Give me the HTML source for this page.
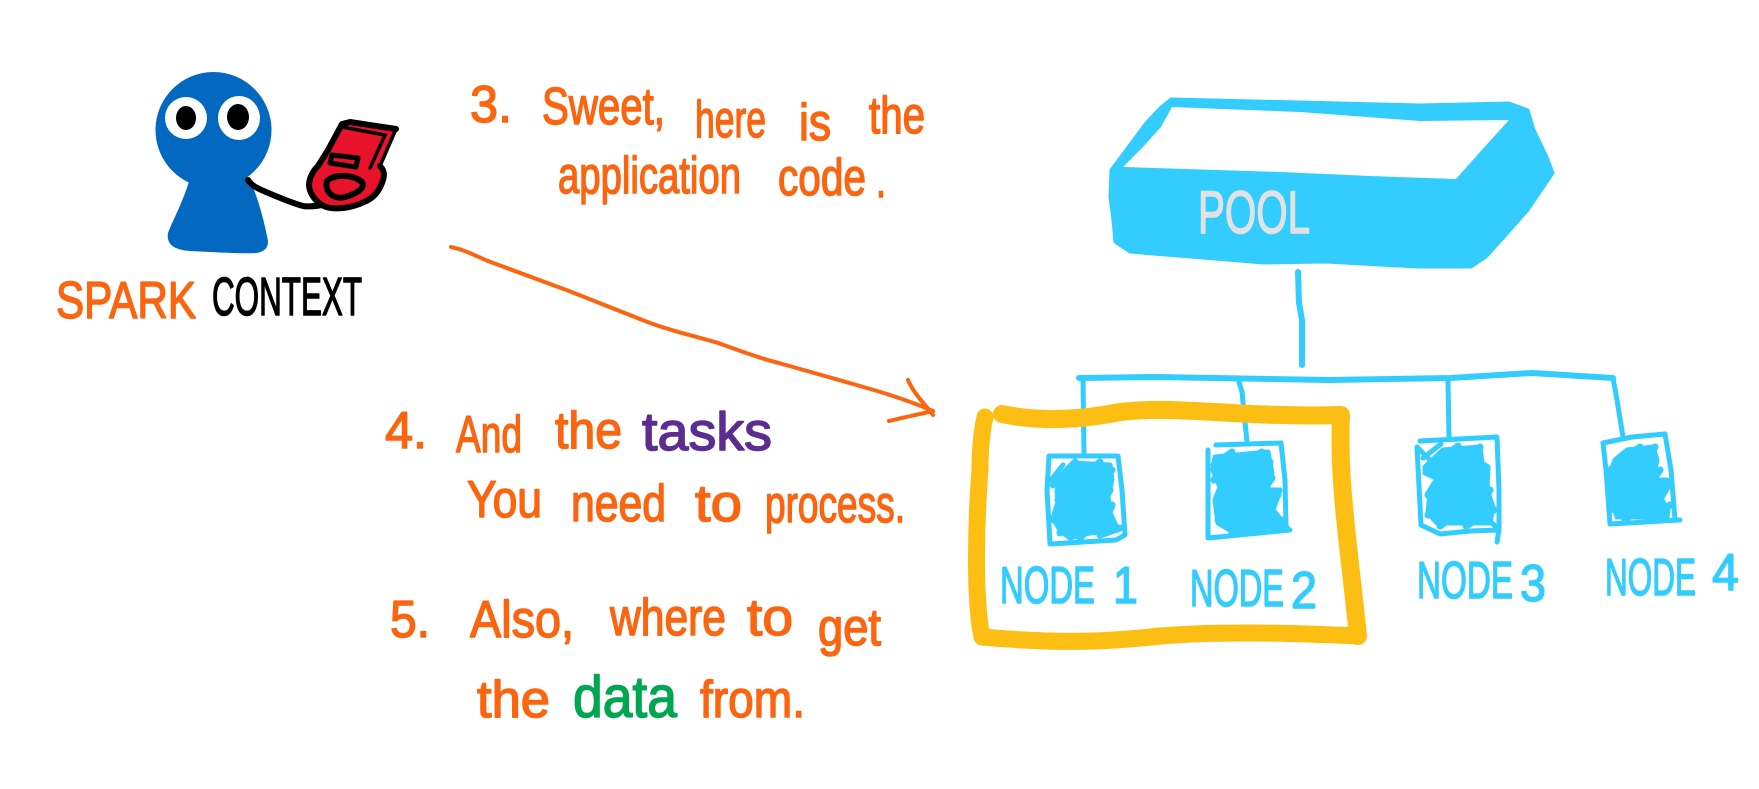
<!DOCTYPE html>
<html><head><meta charset="utf-8"><style>
html,body{margin:0;padding:0;background:#fff}
svg{display:block}
text{font-family:"Liberation Sans",sans-serif;stroke-linejoin:round;stroke-linecap:round}
.o text,.o{fill:#fb6510;stroke:#fb6510;stroke-width:1.5;font-size:52px}
.c text{fill:#33ccff;stroke:#33ccff;stroke-width:1.5;font-size:52px}
</style></head><body>
<svg width="1759" height="789" viewBox="0 0 1759 789" xmlns="http://www.w3.org/2000/svg">
<rect width="1759" height="789" fill="#fff"/>

<!-- Figure -->
<g fill="#0369c0">
<ellipse cx="213.500" cy="130" rx="58" ry="58"/>
<path d="M190 178C184 200 172 222 168 233C166 245 175 250 190 251C215 252 240 254 257 253C265 251 268 248 268 241C265 225 260 205 254 190L246 175Z"/>
</g>
<ellipse cx="186" cy="118" rx="21" ry="21" fill="#fff"/>
<ellipse cx="239" cy="118" rx="21" ry="22" fill="#fff"/>
<ellipse cx="186" cy="118" rx="10" ry="12" fill="#000"/>
<ellipse cx="238" cy="117" rx="11" ry="13" fill="#000"/>
<path d="M248 180C252 186 257 188 266 192C280 198 292 203 303 206C310 207 316 206 322 205" fill="none" stroke="#000" stroke-width="6" stroke-linecap="round"/>
<path d="M342 124L350 122L396 129L380 166C384 170 385 174 383 180C380 190 374 198 364 202C352 208 336 210 326 207C316 203 310 194 309 186C309 178 312 172 318 166L328 150Z" fill="#e8132a"/>
<path d="M380 166C384 170 385 174 383 180C380 190 374 198 364 202C352 208 336 210 326 207C316 203 310 194 309 186C309 178 312 172 318 166L328 150L342 124L350 122L396 129" fill="none" stroke="#000" stroke-width="6" stroke-linejoin="round" stroke-linecap="round"/>
<path d="M342 127L385 135L370 168M396 129L380 166" fill="none" stroke="#000" stroke-width="3.500" stroke-linecap="round"/>
<path d="M332 155L358 158L356 167L330 163Z" fill="none" stroke="#000" stroke-width="5" stroke-linejoin="round"/>
<path d="M327 181C334 174 352 174 362 182C366 188 356 194 345 197C334 200 324 192 327 181Z" fill="none" stroke="#000" stroke-width="6" stroke-linejoin="round"/>

<g class="o">
<text x="56" y="318" textLength="140" lengthAdjust="spacingAndGlyphs">SPARK</text>
</g>
<text x="212" y="315" textLength="150" lengthAdjust="spacingAndGlyphs" font-size="54" fill="#000" stroke="#000" stroke-width="1.500">CONTEXT</text>

<!-- Step text -->
<g class="o">
<text x="470" y="122" textLength="42" lengthAdjust="spacingAndGlyphs">3.</text>
<text x="542" y="124" textLength="123" lengthAdjust="spacingAndGlyphs">Sweet,</text>
<text x="695" y="137" textLength="71" lengthAdjust="spacingAndGlyphs">here</text>
<text x="799" y="140" textLength="32" lengthAdjust="spacingAndGlyphs">is</text>
<text x="869" y="133" textLength="56" lengthAdjust="spacingAndGlyphs">the</text>
<text x="558" y="193" textLength="183" lengthAdjust="spacingAndGlyphs">application</text>
<text x="778" y="195" textLength="88" lengthAdjust="spacingAndGlyphs">code</text>
<text x="876" y="197" textLength="10" lengthAdjust="spacingAndGlyphs">.</text>

<text x="385" y="448" textLength="42" lengthAdjust="spacingAndGlyphs">4.</text>
<text x="456" y="452" textLength="66" lengthAdjust="spacingAndGlyphs">And</text>
<text x="555" y="448" textLength="67" lengthAdjust="spacingAndGlyphs">the</text>
<text x="467" y="517" textLength="75" lengthAdjust="spacingAndGlyphs">You</text>
<text x="571" y="521" textLength="95" lengthAdjust="spacingAndGlyphs">need</text>
<text x="695" y="521" textLength="47" lengthAdjust="spacingAndGlyphs">to</text>
<text x="765" y="522" textLength="140" lengthAdjust="spacingAndGlyphs">process.</text>

<text x="390" y="637" textLength="40" lengthAdjust="spacingAndGlyphs">5.</text>
<text x="470" y="637" textLength="104" lengthAdjust="spacingAndGlyphs">Also,</text>
<text x="610" y="635" textLength="116" lengthAdjust="spacingAndGlyphs">where</text>
<text x="747" y="635" textLength="46" lengthAdjust="spacingAndGlyphs">to</text>
<text x="818" y="645" textLength="63" lengthAdjust="spacingAndGlyphs">get</text>
<text x="477" y="717" textLength="73" lengthAdjust="spacingAndGlyphs" font-size="56">the</text>
<text x="700" y="717" textLength="105" lengthAdjust="spacingAndGlyphs" font-size="56">from.</text>
</g>
<text x="642" y="450" textLength="130" lengthAdjust="spacingAndGlyphs" font-size="54" fill="#5b2d91" stroke="#5b2d91" stroke-width="1.500">tasks</text>
<text x="573" y="717" textLength="104" lengthAdjust="spacingAndGlyphs" font-size="58" fill="#00a651" stroke="#00a651" stroke-width="1.500">data</text>

<!-- Arrow -->
<path d="M451 247C470 251 480 259 496 264L569 291L645 321C670 331 695 336 718 343C738 350 758 358 779 363L860 386C885 393 910 401 933 411M908 380C914 394 924 403 933 415M889 421C905 417 920 414 933 411" fill="none" stroke="#fb6510" stroke-width="4" stroke-linecap="round" stroke-linejoin="round"/>

<!-- Pool -->
<path d="M1171 99L1300 102L1420 105L1509 103L1528 110L1534 130L1547 157L1553 173L1528 210L1505 236L1486 257L1471 267L1417 267L1326 262L1264 263L1130 252L1115 242L1113 220L1110 197L1111 170L1146 123L1160 108Z" fill="#33ccff" stroke="#33ccff" stroke-width="3" stroke-linejoin="round"/>
<path d="M1172 107L1300 112L1420 121L1509 120L1480 152L1456 179L1370 176L1280 172L1123 167L1142 148L1161 127Z" fill="#fff"/>
<g fill="#e2e2e2" stroke="#e2e2e2" stroke-width="1.500" font-size="60">
<text x="1198" y="233" textLength="112" lengthAdjust="spacingAndGlyphs">POOL</text>
</g>

<!-- Connectors -->
<g fill="none" stroke="#33ccff" stroke-linecap="round" stroke-linejoin="round" stroke-width="6">
<path d="M1298 272L1299 303L1302 320L1302 365"/>
<path d="M1079 378L1157 377L1329 380L1450 378L1532 373L1613 378"/>
<path d="M1083 378L1084 455" stroke-width="5"/>
<path d="M1239 382L1242 392L1247 442" stroke-width="5"/>
<path d="M1448 382L1449 438" stroke-width="5"/>
<path d="M1613 378L1617 400L1623 437" stroke-width="5"/>
</g>

<!-- Nodes -->
<g fill="none" stroke="#33ccff" stroke-width="5" stroke-linejoin="round" stroke-linecap="round">
<path d="M1049 456L1118 456L1122 490L1125 535L1116 540L1050 544L1047 490Z"/>
<path d="M1216 445L1281 443L1285 480L1286 528L1290 530L1208 538L1208 450"/>
<path d="M1420 441L1497 437L1499 490L1499 530L1497 542M1499 530L1470 531L1440 534L1421 525L1417 447Z"/>
<path d="M1603 443L1632 437L1665 434L1671 470L1675 520L1680 520L1610 524L1606 470Z"/>
</g>
<g fill="#33ccff" stroke="#33ccff" stroke-width="5" stroke-linejoin="round" stroke-linecap="round">
<path d="M1057 490L1073 463L1110 465L1112 480L1108 497L1110 513L1118 530L1090 533L1070 538L1060 530L1053 518L1058 502ZM1051 480L1063 465"/>
<path d="M1215 457L1268 452L1272 473L1267 490L1280 490L1273 510L1287 527L1263 527L1233 532L1218 523L1215 500L1220 487L1213 470Z"/>
<path d="M1443 450L1480 447L1482 463L1488 467L1487 490L1493 507L1490 523L1437 523L1428 513L1430 493L1440 480L1425 473L1425 467ZM1423 458L1441 444"/>
<path d="M1627 450L1653 447L1657 460L1653 480L1667 480L1660 497L1668 510L1667 517L1617 517L1612 500L1613 487L1608 480L1615 460Z"/>
</g>
<g fill="none" stroke="#33ccff" stroke-width="7" stroke-linejoin="round" stroke-linecap="round">
<path d="M1053 485L1075 462L1058 500L1100 462L1054 520L1112 470L1060 533L1110 490L1080 538L1112 505L1100 535L1120 528"/>
<path d="M1214 465L1232 452L1214 480L1262 452L1216 500L1270 462L1218 520L1272 478L1232 533L1278 495L1255 530L1285 520"/>
<path d="M1426 470L1458 446L1428 495L1480 447L1428 515L1486 470L1440 526L1490 490L1466 526L1494 510"/>
<path d="M1610 470L1640 447L1612 490L1655 447L1614 510L1660 470L1625 520L1668 485L1650 518L1670 505"/>
</g>

<g class="c">
<text x="1000" y="603" textLength="95" lengthAdjust="spacingAndGlyphs">NODE</text>
<text x="1113" y="603" textLength="25" lengthAdjust="spacingAndGlyphs">1</text>
<text x="1190" y="606" textLength="94" lengthAdjust="spacingAndGlyphs">NODE</text>
<text x="1291" y="608" textLength="26" lengthAdjust="spacingAndGlyphs">2</text>
<text x="1417" y="598" textLength="96" lengthAdjust="spacingAndGlyphs">NODE</text>
<text x="1520" y="601" textLength="26" lengthAdjust="spacingAndGlyphs">3</text>
<text x="1605" y="595" textLength="91" lengthAdjust="spacingAndGlyphs">NODE</text>
<text x="1712" y="590" textLength="27" lengthAdjust="spacingAndGlyphs">4</text>
</g>

<!-- Highlight box -->
<path d="M1002 414C1040 422 1080 420 1120 412C1180 405 1240 418 1341 415C1338 480 1348 540 1358 636" fill="none" stroke="#fdbe14" stroke-width="18" stroke-linecap="round" stroke-linejoin="round"/>
<path d="M1358 636C1290 633 1220 631 1160 636C1100 643 1050 643 982 637C974 600 976 520 980 470C980 450 982 430 985 417" fill="none" stroke="#fdbe14" stroke-width="17" stroke-linecap="round" stroke-linejoin="round"/>
</svg>
</body></html>
